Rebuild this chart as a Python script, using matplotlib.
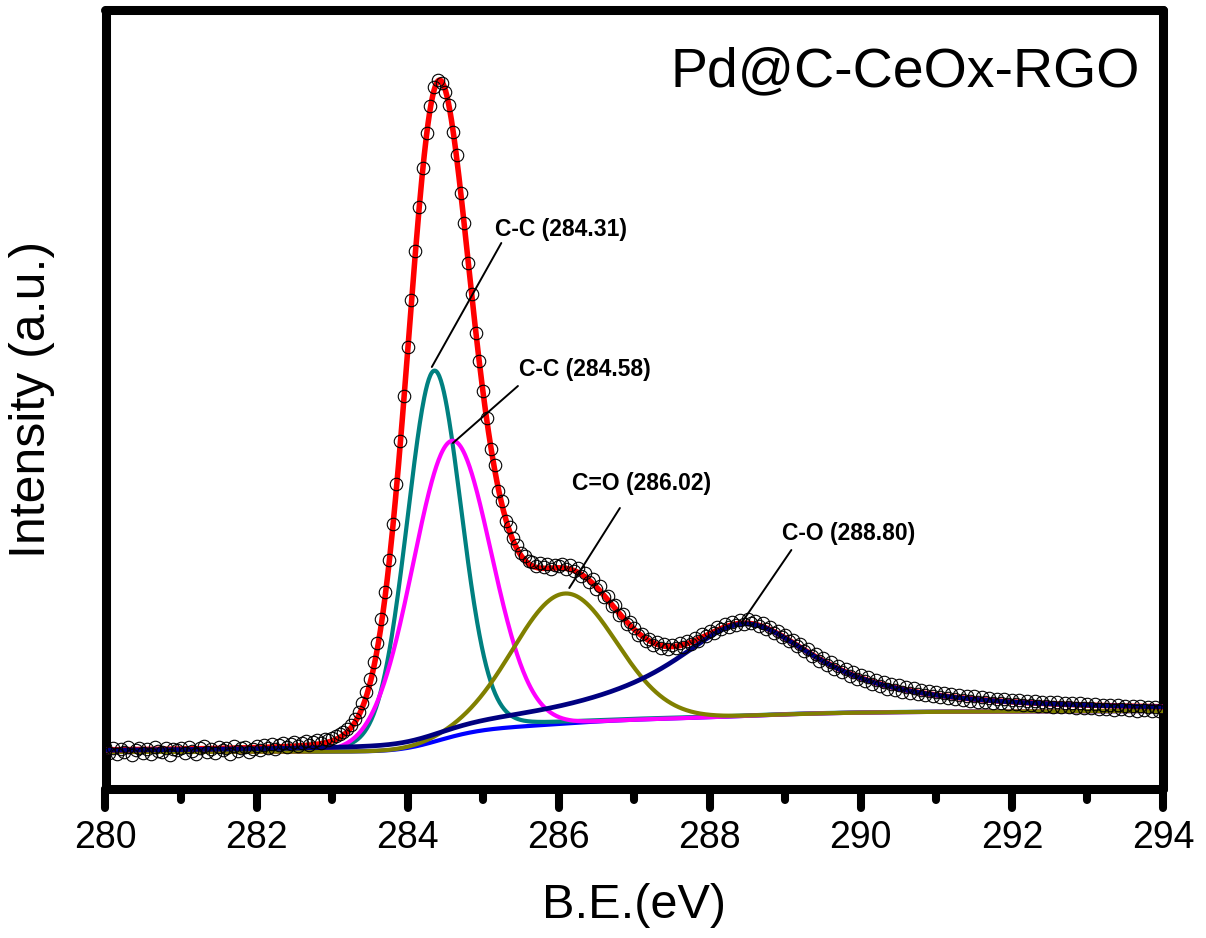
import numpy as np
import matplotlib
matplotlib.use('Agg')
import matplotlib.pyplot as plt
from matplotlib.markers import MarkerStyle, TICKDOWN

plt.rcParams['font.family'] = ['Liberation Sans', 'DejaVu Sans']

# ---- measured spectrum (binding energy step 0.05 eV, intensity a.u.) ----
be_start, be_stop, be_step = 280.0, 294.0, 0.05
counts = [
    42, 36, 41, 35, 40, 37, 42, 34, 39, 41, 36, 40, 35, 42, 38, 37, 41, 34, 40, 39,
    41, 36, 42, 38, 35, 41, 43, 37, 40, 36, 42, 39, 41, 35, 43, 38, 41, 42, 37, 40,
    43, 39, 44, 41, 45, 40, 44, 46, 42, 45, 47, 43, 46, 48, 44, 47, 49, 46, 50, 49,
    51, 53, 55, 57, 60, 64, 70, 77, 86, 97, 110, 127, 146, 170, 197, 229, 265, 305, 348, 393,
    442, 489, 538, 582, 621, 656, 683, 702, 709, 706, 697, 684, 657, 634, 596, 566, 526, 495, 456, 428,
    398, 371, 340, 324, 298, 288, 268, 262, 251, 244, 236, 233, 228, 227, 223, 226, 222, 225, 220, 224,
    223, 225, 220, 224, 218, 221, 213, 216, 207, 210, 200, 203, 192, 193, 183, 184, 174, 175, 165, 167,
    161, 154, 155, 148, 150, 144, 147, 141, 145, 140, 144, 141, 146, 142, 148, 145, 151, 148, 155, 153,
    158, 156, 162, 160, 165, 162, 167, 164, 169, 165, 170, 166, 168, 163, 166, 160, 162, 156, 158, 152,
    154, 148, 149, 143, 145, 138, 140, 133, 135, 128, 131, 124, 127, 120, 123, 117, 120, 113, 117, 110,
    114, 108, 112, 105, 109, 103, 107, 100, 105, 99, 104, 97, 102, 96, 101, 95, 99, 94, 98, 93,
    97, 92, 96, 91, 95, 90, 94, 89, 93, 88, 93, 87, 92, 87, 91, 86, 90, 86, 90, 85,
    89, 85, 89, 84, 88, 84, 88, 83, 87, 83, 87, 82, 87, 82, 86, 82, 86, 81, 86, 81,
    85, 81, 85, 80, 84, 80, 84, 79, 84, 80, 83, 79, 83, 78, 83, 79, 82, 78, 82, 78,
    81,
]

# ---- fitted peaks (pseudo-Voigt) ----
peak_labels = ['C-C (284.31)', 'C-C (284.58)', 'C=O (286.02)', 'C-O (288.80)']
peak_centers = [284.35, 284.58, 286.08, 288.45]
peak_heights = [371, 296, 130, 92]
peak_fwhm = [0.85, 1.22, 1.60, 2.40]
peak_lorentz = [0.1, 0.0, 0.0, 1.0]
peak_colors = ['#008080', '#FF00FF', '#808000', '#000080']
bg_low, bg_high = 37, 78  # Shirley background end levels

sample_name = 'Pd@C-CeOx-RGO'
x_label = 'B.E.(eV)'
y_label = 'Intensity (a.u.)'
x_ticks = [280, 282, 284, 286, 288, 290, 292, 294]

be = np.round(np.arange(len(counts)) * be_step + be_start, 2)
E = np.linspace(be_start, be_stop, 1401)


def pv(x, c, h, w, eta):
    g = np.exp(-4 * np.log(2) * ((x - c) / w) ** 2)
    l = 1 / (1 + 4 * ((x - c) / w) ** 2)
    return h * (eta * l + (1 - eta) * g)


comps = [pv(E, c, h, w, e) for c, h, w, e in zip(peak_centers, peak_heights, peak_fwhm, peak_lorentz)]
P = np.sum(comps, axis=0)
cum = np.concatenate([[0], np.cumsum((P[1:] + P[:-1]) / 2 * np.diff(E))])
B = bg_low + (bg_high - bg_low) * cum / cum[-1]
env = B + P

W, H = 1206, 938
fig = plt.figure(figsize=(W / 100, H / 100), dpi=100)
ax = fig.add_axes([105.5 / W, (H - 789) / H, 1057.5 / W, 779 / H])

ax.plot(E, B, color='#0000FF', lw=3.0, zorder=2)
for comp, col in zip(comps[:3], peak_colors[:3]):
    ax.plot(E, B + comp, color=col, lw=3.0, zorder=3)
ax.plot(E, env, color='#FF0000', lw=4.0, zorder=4)
ax.plot(E, B + comps[3], color=peak_colors[3], lw=3.4, zorder=5)
ax.plot(be, counts, linestyle='none', marker='o', ms=9, mfc='none', mec='black', mew=0.8, zorder=6)

# annotations
label_pos = [(285.15, 553), (285.48, 413), (286.17, 299), (288.95, 249)]
line_start = [(285.24, 546), (285.46, 403), (286.81, 281), (289.08, 239)]
line_end = [(284.32, 422), (284.60, 346), (286.14, 201), (288.42, 166)]
for lab, tp, ls, le in zip(peak_labels, label_pos, line_start, line_end):
    ax.text(tp[0], tp[1], lab, fontsize=16.5, fontweight='bold', ha='left', va='baseline', zorder=7)
    ax.annotate('', xy=le, xytext=ls, arrowprops=dict(arrowstyle='-', lw=1.4, color='black',
                                                        shrinkA=0, shrinkB=0), zorder=7)

ax.text(0.978, 0.902, sample_name, transform=ax.transAxes, fontsize=40, ha='right', va='baseline')

ax.set_xlim(be_start, be_stop)
ax.set_ylim(0, 779)
ax.set_xticks(x_ticks)
ax.set_xticks(np.arange(281, 294, 2), minor=True)
ax.set_yticks([])
ax.tick_params(axis='x', which='major', direction='out', length=14, width=5.8, labelsize=27, pad=8,
               top=False)
ax.tick_params(axis='x', which='minor', direction='out', length=8, width=5.8, top=False)
for sp in ax.spines.values():
    sp.set_linewidth(6.5)
    sp.set_capstyle('round')
    sp.set_joinstyle('round')
try:
    for t in ax.xaxis.get_major_ticks() + ax.xaxis.get_minor_ticks():
        t.tick1line.set_marker(MarkerStyle(TICKDOWN, capstyle='round'))
except Exception:
    pass

ax.set_xlabel(x_label, fontsize=35, labelpad=20)
ax.set_ylabel(y_label, fontsize=36, labelpad=36)

fig.savefig('out.png', dpi=100)
